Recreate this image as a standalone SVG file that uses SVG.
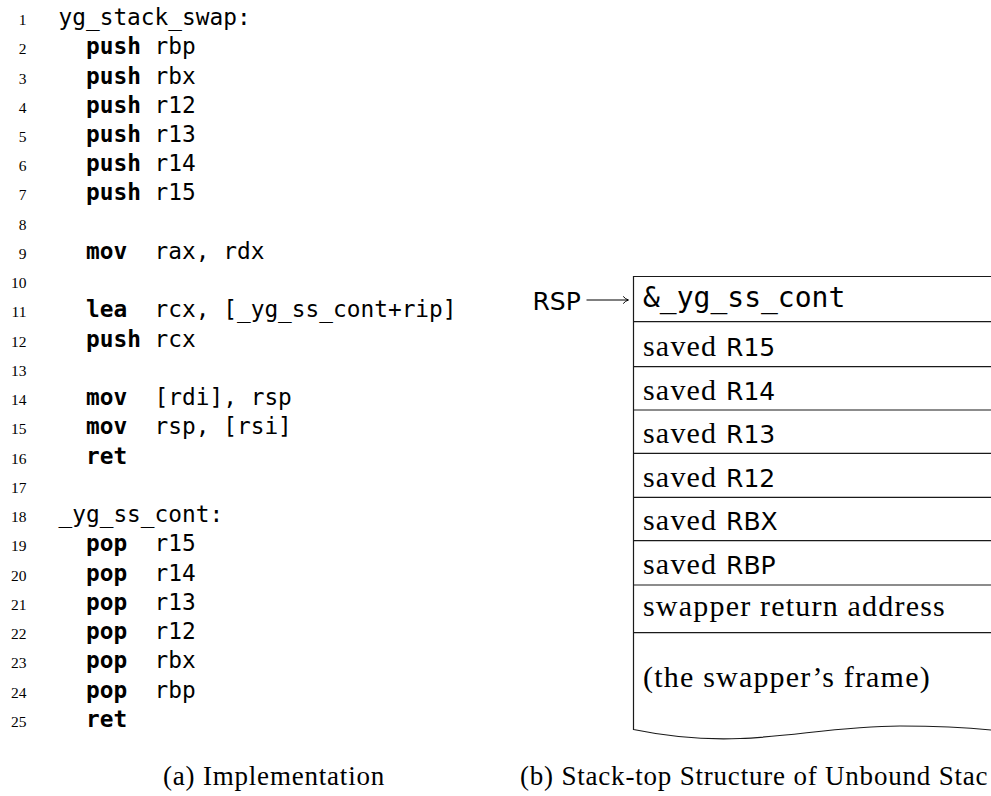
<svg xmlns="http://www.w3.org/2000/svg" width="991" height="796" viewBox="0 0 991 796">
  <style>
    .ln { font-family: "Liberation Serif", serif; font-size: 15.5px; fill: #000; text-anchor: end; }
    .code { font-family: "DejaVu Sans Mono", monospace; font-size: 22.8px; fill: #000; }
    .kw { font-weight: bold; }
    .serif { font-family: "Liberation Serif", serif; font-size: 30px; letter-spacing: 1.2px; fill: #000; }
    .sans { font-family: "DejaVu Sans", sans-serif; font-size: 25px; letter-spacing: 0; fill: #000; }
    .mono { font-family: "DejaVu Sans Mono", monospace; font-size: 28px; fill: #000; }
    .cap { font-family: "Liberation Serif", serif; font-size: 27px; letter-spacing: 0.8px; fill: #000; }
    .cell { fill: none; stroke: #1a1a1a; stroke-width: 1.2; }
    .edge { fill: none; stroke: #000; stroke-width: 1; }
  </style>

  <!-- (a) listing: line numbers -->
  <g id="line-numbers">
    <text class="ln" x="26.5" y="25">1</text>
    <text class="ln" x="26.5" y="54.2">2</text>
    <text class="ln" x="26.5" y="83.5">3</text>
    <text class="ln" x="26.5" y="112.7">4</text>
    <text class="ln" x="26.5" y="142">5</text>
    <text class="ln" x="26.5" y="171.2">6</text>
    <text class="ln" x="26.5" y="200.4">7</text>
    <text class="ln" x="26.5" y="229.7">8</text>
    <text class="ln" x="26.5" y="258.9">9</text>
    <text class="ln" x="26.5" y="288.2">10</text>
    <text class="ln" x="26.5" y="317.4">11</text>
    <text class="ln" x="26.5" y="346.6">12</text>
    <text class="ln" x="26.5" y="375.9">13</text>
    <text class="ln" x="26.5" y="405.1">14</text>
    <text class="ln" x="26.5" y="434.4">15</text>
    <text class="ln" x="26.5" y="463.6">16</text>
    <text class="ln" x="26.5" y="492.8">17</text>
    <text class="ln" x="26.5" y="522.1">18</text>
    <text class="ln" x="26.5" y="551.3">19</text>
    <text class="ln" x="26.5" y="580.6">20</text>
    <text class="ln" x="26.5" y="609.8">21</text>
    <text class="ln" x="26.5" y="639">22</text>
    <text class="ln" x="26.5" y="668.3">23</text>
    <text class="ln" x="26.5" y="697.5">24</text>
    <text class="ln" x="26.5" y="726.8">25</text>
  </g>

  <!-- (a) listing: assembly source -->
  <g id="listing" class="code">
    <text x="58.5" y="25">yg_stack_swap:</text>
    <text y="54.2"><tspan class="kw" x="86">push</tspan><tspan x="154.6">rbp</tspan></text>
    <text y="83.5"><tspan class="kw" x="86">push</tspan><tspan x="154.6">rbx</tspan></text>
    <text y="112.7"><tspan class="kw" x="86">push</tspan><tspan x="154.6">r12</tspan></text>
    <text y="142"><tspan class="kw" x="86">push</tspan><tspan x="154.6">r13</tspan></text>
    <text y="171.2"><tspan class="kw" x="86">push</tspan><tspan x="154.6">r14</tspan></text>
    <text y="200.4"><tspan class="kw" x="86">push</tspan><tspan x="154.6">r15</tspan></text>
    <text y="258.9"><tspan class="kw" x="86">mov</tspan><tspan x="154.6">rax, rdx</tspan></text>
    <text y="317.4"><tspan class="kw" x="86">lea</tspan><tspan x="154.6">rcx, [_yg_ss_cont+rip]</tspan></text>
    <text y="346.6"><tspan class="kw" x="86">push</tspan><tspan x="154.6">rcx</tspan></text>
    <text y="405.1"><tspan class="kw" x="86">mov</tspan><tspan x="154.6">[rdi], rsp</tspan></text>
    <text y="434.4"><tspan class="kw" x="86">mov</tspan><tspan x="154.6">rsp, [rsi]</tspan></text>
    <text y="463.6"><tspan class="kw" x="86">ret</tspan></text>
    <text x="58.5" y="522.1">_yg_ss_cont:</text>
    <text y="551.3"><tspan class="kw" x="86">pop</tspan><tspan x="154.6">r15</tspan></text>
    <text y="580.6"><tspan class="kw" x="86">pop</tspan><tspan x="154.6">r14</tspan></text>
    <text y="609.8"><tspan class="kw" x="86">pop</tspan><tspan x="154.6">r13</tspan></text>
    <text y="639"><tspan class="kw" x="86">pop</tspan><tspan x="154.6">r12</tspan></text>
    <text y="668.3"><tspan class="kw" x="86">pop</tspan><tspan x="154.6">rbx</tspan></text>
    <text y="697.5"><tspan class="kw" x="86">pop</tspan><tspan x="154.6">rbp</tspan></text>
    <text y="726.8"><tspan class="kw" x="86">ret</tspan></text>
  </g>

  <!-- (b) stack top: frame outline, open to the right, torn at the bottom -->
  <g id="stack-frame">
    <path class="cell" d="M1000,276.5 H633.5 V729.5 C660,735 700,740 740,738.5 C790,737 840,726 900,726 C940,726 975,728 1000,731"/>
  </g>

  <g id="cell-cont">
    <text class="mono" x="643" y="307">&amp;_yg_ss_cont</text>
  </g>
  <g id="cell-r15">
    <line class="cell" x1="633.5" y1="321.7" x2="1000" y2="321.7"/>
    <text class="serif" x="643" y="356">saved <tspan class="sans">R15</tspan></text>
  </g>
  <g id="cell-r14">
    <line class="cell" x1="633.5" y1="366.7" x2="1000" y2="366.7"/>
    <text class="serif" x="643" y="399.5">saved <tspan class="sans">R14</tspan></text>
  </g>
  <g id="cell-r13">
    <line class="cell" x1="633.5" y1="410" x2="1000" y2="410"/>
    <text class="serif" x="643" y="442.8">saved <tspan class="sans">R13</tspan></text>
  </g>
  <g id="cell-r12">
    <line class="cell" x1="633.5" y1="453.3" x2="1000" y2="453.3"/>
    <text class="serif" x="643" y="486.5">saved <tspan class="sans">R12</tspan></text>
  </g>
  <g id="cell-rbx">
    <line class="cell" x1="633.5" y1="497.3" x2="1000" y2="497.3"/>
    <text class="serif" x="643" y="530">saved <tspan class="sans">RBX</tspan></text>
  </g>
  <g id="cell-rbp">
    <line class="cell" x1="633.5" y1="540.7" x2="1000" y2="540.7"/>
    <text class="serif" x="643" y="574">saved <tspan class="sans">RBP</tspan></text>
  </g>
  <g id="cell-ret">
    <line class="cell" x1="633.5" y1="585" x2="1000" y2="585"/>
    <text class="serif" x="643" y="615.5">swapper return address</text>
  </g>
  <g id="cell-frame">
    <line class="cell" x1="633.5" y1="632.7" x2="1000" y2="632.7"/>
    <text class="serif" x="643" y="687">(the swapper’s frame)</text>
  </g>

  <!-- stack pointer label -->
  <g id="rsp">
    <text class="sans" x="532.5" y="310">RSP</text>
  </g>

  <!-- RSP points at the top cell -->
  <g id="connectors">
    <line class="edge" x1="586.5" y1="300" x2="628" y2="300"/>
    <path class="edge" d="M623.2,296.4 Q625.5,299.2 628.5,300 Q625.5,300.8 623.2,303.6"/>
  </g>

  <!-- sub-figure captions -->
  <g id="captions">
    <text class="cap" x="163" y="785">(a) Implementation</text>
    <text class="cap" x="520" y="785">(b) Stack-top Structure of Unbound Stac</text>
  </g>
</svg>
